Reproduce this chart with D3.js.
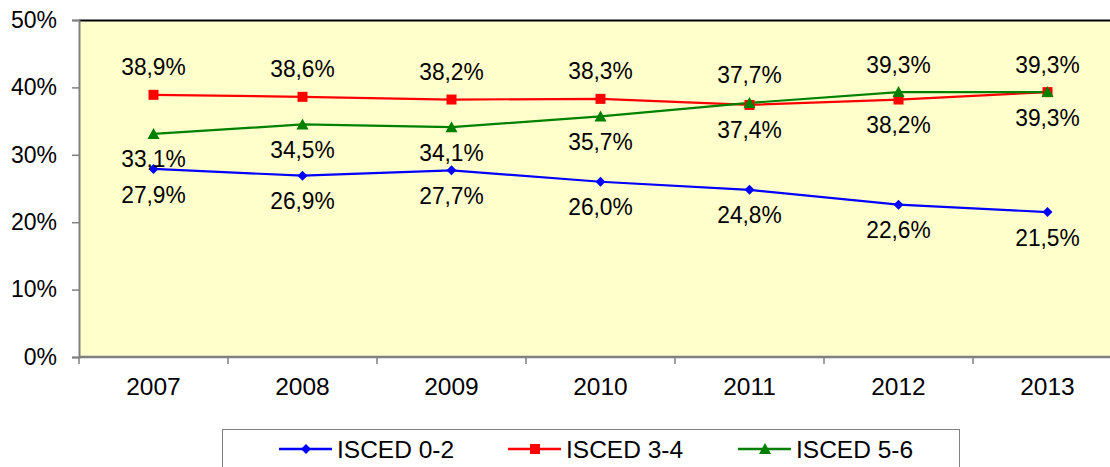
<!DOCTYPE html>
<html><head><meta charset="utf-8">
<script src="https://cdn.jsdelivr.net/npm/d3@7"></script>
<style>
html,body{margin:0;padding:0;background:#fff;}
svg{display:block;font-family:"Liberation Sans",Arial,sans-serif;}
</style></head>
<body><svg id="c" width="1110" height="467"></svg>
<script>
const years = ["2007","2008","2009","2010","2011","2012","2013"];
const isced02 = [27.9, 26.9, 27.7, 26.0, 24.8, 22.6, 21.5];
const isced34 = [38.9, 38.6, 38.2, 38.3, 37.4, 38.2, 39.3];
const isced56 = [33.1, 34.5, 34.1, 35.7, 37.7, 39.3, 39.3];
const seriesNames = ["ISCED 0-2","ISCED 3-4","ISCED 5-6"];
const yTicks = [0,10,20,30,40,50];

const series = [
  {name: seriesNames[0], values: isced02, color: "#0000FF", marker: "diamond"},
  {name: seriesNames[1], values: isced34, color: "#FF0000", marker: "square"},
  {name: seriesNames[2], values: isced56, color: "#008000", marker: "triangle"}
];

const svg = d3.select("#c");
const L = 79, T = 20, B = 357, bandW = 149;
const x = d3.scaleBand().domain(years).range([L, L + bandW*years.length]).padding(0);
const y = d3.scaleLinear().domain([0,50]).range([B, T]);
const fmt = v => d3.format(".1f")(v).replace(".", ",") + "%";

// plot background
svg.append("rect").attr("x", L).attr("y", T).attr("width", 1110 - L + 20).attr("height", B - T).attr("fill", "#FFFFCC");
svg.append("line").attr("x1", L).attr("x2", 1115).attr("y1", T+0.5).attr("y2", T+0.5).attr("stroke", "#000").attr("stroke-width", 2);

// y axis
const yAxis = d3.axisLeft(y).tickValues(yTicks).tickFormat(d => d + "%").tickSize(7).tickPadding(15);
const gy = svg.append("g").attr("transform", `translate(${L},0)`).call(yAxis);
gy.attr("font-size", null).attr("font-family", null);
gy.select(".domain").attr("stroke", "#808080").attr("stroke-width", 2);
gy.selectAll(".tick line").attr("stroke", "#808080").attr("stroke-width", 1.5);
gy.selectAll(".tick text").attr("font-size", 23).attr("fill", "#000");

// x axis with boundary ticks
const gx = svg.append("g").attr("transform", `translate(0,${B})`);
gx.append("line").attr("x1", L).attr("x2", 1115).attr("y1", 0).attr("y2", 0).attr("stroke", "#808080").attr("stroke-width", 2.5);
const bounds = years.map(d => x(d)).concat([x(years[years.length-1]) + bandW]);
gx.selectAll("line.tk").data(bounds).enter().append("line").attr("class","tk")
  .attr("x1", d => d).attr("x2", d => d).attr("y1", 0).attr("y2", 7).attr("stroke", "#808080").attr("stroke-width", 1.5);
gx.selectAll("text").data(years).enter().append("text")
  .attr("x", d => x(d) + bandW/2).attr("y", 29).attr("dy", "0.35em").attr("text-anchor", "middle")
  .attr("font-size", 24.5).attr("fill", "#000").text(d => d);

// lines
const line = d3.line().x((d,i) => x(years[i]) + bandW/2).y(d => y(d));
series.forEach(s => {
  svg.append("path").datum(s.values).attr("d", line).attr("fill", "none")
    .attr("stroke", s.color).attr("stroke-width", 2.2);
});

function markerPath(type, sz) {
  const h = sz/2;
  if (type === "diamond") return `M0,${-h}L${h},0L0,${h}L${-h},0Z`;
  if (type === "square") return `M${-h},${-h}H${h}V${h}H${-h}Z`;
  return `M0,${-h-1}L${h+1},${h}L${-h-1},${h}Z`;
}
series.forEach(s => {
  svg.selectAll(null).data(s.values).enter().append("path")
    .attr("transform", (d,i) => `translate(${x(years[i]) + bandW/2},${y(d)})`)
    .attr("d", markerPath(s.marker, 10))
    .attr("fill", s.color);
});

// data labels: above if series is highest at that year, else below
series.forEach((s, si) => {
  s.values.forEach((v, i) => {
    const maxV = d3.max(series, t => t.values[i]);
    const firstMax = series.findIndex(t => t.values[i] === maxV);
    const above = si === firstMax;
    const cx = x(years[i]) + bandW/2;
    const cy = y(v) + (above ? -28 : 25);
    svg.append("text")
      .attr("transform", `translate(${cx},${cy}) scale(0.93,1)`)
      .attr("text-anchor", "middle").attr("dy", "0.35em")
      .attr("font-size", 24.5).attr("fill", "#000").text(fmt(v));
  });
});

// legend
const lg = svg.append("g");
lg.append("rect").attr("x", 222.5).attr("y", 429.5).attr("width", 737).attr("height", 60)
  .attr("fill", "#fff").attr("stroke", "#808080").attr("stroke-width", 1);
const legX = [279, 508, 738];
series.forEach((s, i) => {
  const g = lg.append("g").attr("transform", `translate(${legX[i]},449)`);
  g.append("line").attr("x1", 0).attr("x2", 53).attr("stroke", s.color).attr("stroke-width", 2.5);
  g.append("path").attr("transform", "translate(27,0)").attr("d", markerPath(s.marker, 10)).attr("fill", s.color);
  g.append("text").attr("x", 58).attr("dy", "0.35em").attr("font-size", 24.5).attr("fill", "#000").text(s.name);
});
</script></body></html>
